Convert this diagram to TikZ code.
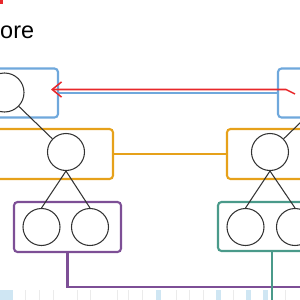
\documentclass[tikz,border=0pt]{standalone}
\usepackage{fontspec}
\setmainfont{Liberation Sans}
\usepackage{tikz}
\usetikzlibrary{arrows.meta}
\definecolor{boxblue}{HTML}{6FA8DC}
\definecolor{boxorange}{HTML}{E6A11A}
\definecolor{boxpurple}{HTML}{7D4F96}
\definecolor{boxteal}{HTML}{4A9A8A}
\definecolor{penred}{HTML}{E8282B}
\definecolor{stripblue}{HTML}{CFE6F3}

\begin{document}
\begin{tikzpicture}[x={(0.03cm,0)}, y={(0,-0.03cm)},
  box/.style={draw, line width=1.8pt, rounded corners=3pt, outer sep=0pt, inner sep=0pt},
  vert/.style={draw=black!80, line width=0.9pt, circle, inner sep=0pt, minimum size=1.11cm},
  edge/.style={black!80, line width=0.9pt}]

\useasboundingbox (0,0) rectangle (300,300);
\clip (0,0) rectangle (300,300);

% Title (cut off at the left)
\fill[penred] (0,0) rectangle (3,4);
\node[font=\fontsize{20}{24}\selectfont, anchor=base west, inner sep=0pt] (title) at (0,38) {ore};

% Left tree
\node[box, draw=boxblue, minimum width=2.34cm, minimum height=1.47cm] (lb) at (19,93) {};
\node[box, draw=boxorange, minimum width=3.99cm, minimum height=1.5cm] (lo) at (46.5,154) {};
\node[box, draw=boxpurple, minimum width=3.21cm, minimum height=1.5cm] (lp) at (67.5,227) {};
\node[vert, minimum size=1.17cm] (lbc) at (4.5,92.5) {};
\node[vert] (loc) at (66,152) {};
\node[vert] (lpa) at (41.5,227) {};
\node[vert] (lpb) at (90,227) {};
\draw[edge] (lbc) -- (loc);
\draw[edge] (loc.south) -- (lpa.north);
\draw[edge] (loc.south) -- (lpb.north);

% Right tree
\node[box, draw=boxblue, minimum width=2.46cm, minimum height=1.47cm] (rb) at (319,93) {};
\node[box, draw=boxorange, minimum width=4.59cm, minimum height=1.5cm] (ro) at (303.5,154) {};
\node[box, draw=boxteal, minimum width=3.24cm, minimum height=1.47cm] (rt) at (272,226.5) {};
\node[vert] (rbc) at (331,93) {};
\node[vert] (roc) at (270,152) {};
\node[vert] (rta) at (245.5,227) {};
\node[vert] (rtb) at (295,227) {};
\draw[edge] (rbc) -- (roc);
\draw[edge] (roc.south) -- (rta.north);
\draw[edge] (roc.south) -- (rtb.north);

% Links between the trees
\draw[boxblue, line width=1.8pt] (lb.east) -- (rb.west);
\draw[boxorange, line width=1.8pt] (lo.east) -- (ro.west);
\coordinate (pend) at (310,287);
\coordinate (tend) at (272,310);
\draw[boxpurple, line width=1.8pt] (lp.south) |- (pend);
\draw[boxteal, line width=1.8pt] (rt.south) -- (tend);

% Red pen stroke
\coordinate (rstart) at (295,94);
\coordinate (rbend) at (286,89.5);
\coordinate (rtip) at (51,89.5);
\draw[penred, line width=1.3pt, -{Straight Barb[length=8pt, width=13pt]}] (rstart) -- (rbend) -- (rtip);

% Timeline strip
\fill[stripblue] (0,290) rectangle (13,300);
\foreach \x in {156,216,246,263} {
    \fill[stripblue] (\x,290) rectangle (\x+5,300);
}
\foreach \x in {25,39,53,77,90,117,128,142,176,189,203,233,285} {
    \draw[black!8] (\x,290) -- (\x,300);
}

\end{tikzpicture}
\end{document}
